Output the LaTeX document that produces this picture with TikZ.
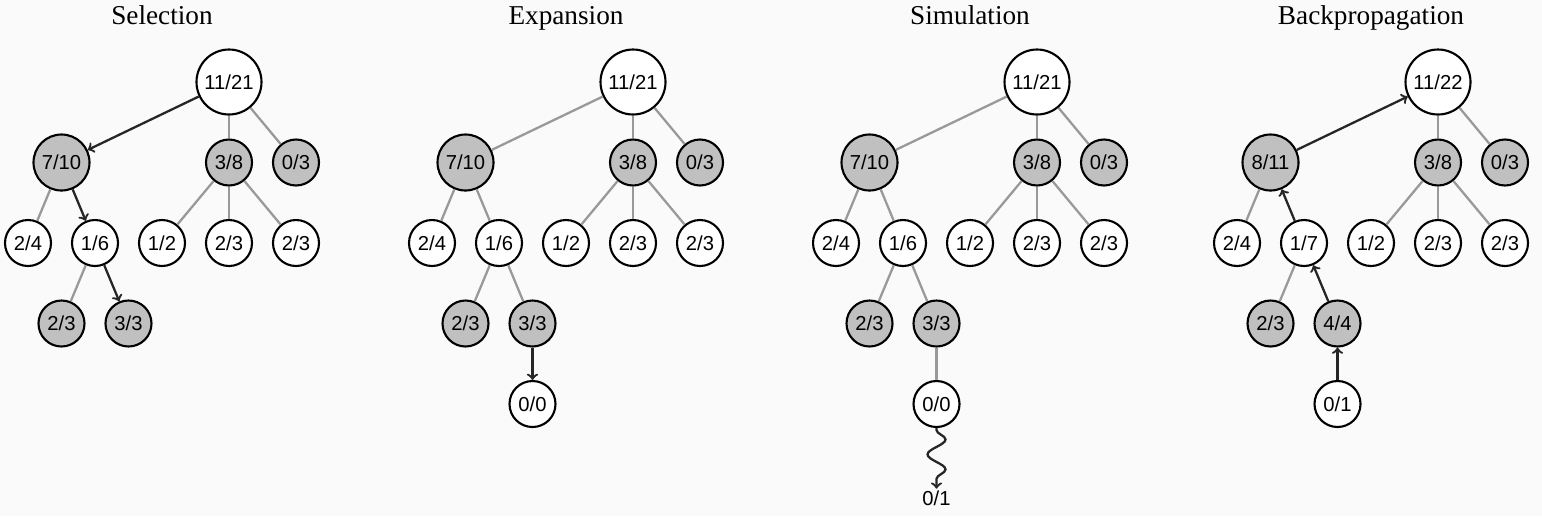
\documentclass[tikz,border=0pt]{standalone}
\usepackage{fontspec}
\setmainfont{Liberation Serif}
\setsansfont{Liberation Sans}
\usepackage{tikz}
\usetikzlibrary{shapes,arrows}
\usetikzlibrary{decorations.pathmorphing}

\definecolor{nodegray}{HTML}{C0C0C0}
\definecolor{edgegray}{HTML}{999999}
\definecolor{paper}{HTML}{FAFAFA}

\tikzset{
	whitenode/.style={circle, draw=black, line width=1.2pt, fill=white, minimum size=0.92cm, inner sep=0pt, font=\sffamily\fontsize{11.5}{13}\selectfont},
	graynode/.style={whitenode, fill=nodegray},
	bignode/.style={graynode, minimum size=1.12cm},
	rootnode/.style={whitenode, minimum size=1.3cm},
	treeedge/.style={draw=edgegray, line width=1.3pt},
	walk/.style={draw=black!85, line width=1.3pt, ->, >=to},
	titletext/.style={anchor=base, font=\fontsize{15.5}{18}\selectfont}
}

\begin{document}
\begin{tikzpicture}[x=1.34cm, y=1.61cm]
	\fill[paper] (0,0) rectangle (30.84cm,-10.32cm);
	\useasboundingbox (0,0) rectangle (30.84cm,-10.32cm);
	
	% Selection
	\begin{scope}[shift={(4.58cm,-1.64cm)}]
	\node[titletext] (stitle) at (-1,0.71) {Selection};
	\node[rootnode] (sroot) at (0,0) {11/21};
	\node[bignode] (sa) at (-2.5,-1) {7/10};
	\node[graynode] (sb) at (0,-1) {3/8};
	\node[graynode] (sc) at (1,-1) {0/3};
	\node[whitenode] (saa) at (-3,-2) {2/4};
	\node[whitenode] (sab) at (-2,-2) {1/6};
	\node[whitenode] (sba) at (-1,-2) {1/2};
	\node[whitenode] (sbb) at (0,-2) {2/3};
	\node[whitenode] (sbc) at (1,-2) {2/3};
	\node[graynode] (saba) at (-2.5,-3) {2/3};
	\node[graynode] (sabb) at (-1.5,-3) {3/3};
	
	\draw[walk] (sroot) -- (sa);
	\draw[treeedge] (sroot) -- (sb);
	\draw[treeedge] (sroot) -- (sc);
	\draw[treeedge] (sa) -- (saa);
	\draw[walk] (sa) -- (sab);
	\draw[treeedge] (sb) -- (sba);
	\draw[treeedge] (sb) -- (sbb);
	\draw[treeedge] (sb) -- (sbc);
	\draw[treeedge] (sab) -- (saba);
	\draw[walk] (sab) -- (sabb);
	\end{scope}
	
	% Expansion
	\begin{scope}[shift={(12.66cm,-1.64cm)}]
	\node[titletext] (etitle) at (-1,0.71) {Expansion};
	\node[rootnode] (eroot) at (0,0) {11/21};
	\node[bignode] (ea) at (-2.5,-1) {7/10};
	\node[graynode] (eb) at (0,-1) {3/8};
	\node[graynode] (ec) at (1,-1) {0/3};
	\node[whitenode] (eaa) at (-3,-2) {2/4};
	\node[whitenode] (eab) at (-2,-2) {1/6};
	\node[whitenode] (eba) at (-1,-2) {1/2};
	\node[whitenode] (ebb) at (0,-2) {2/3};
	\node[whitenode] (ebc) at (1,-2) {2/3};
	\node[graynode] (eaba) at (-2.5,-3) {2/3};
	\node[graynode] (eabb) at (-1.5,-3) {3/3};
	\node[whitenode] (enew) at (-1.5,-4) {0/0};
	
	\draw[treeedge] (eroot) -- (ea);
	\draw[treeedge] (eroot) -- (eb);
	\draw[treeedge] (eroot) -- (ec);
	\draw[treeedge] (ea) -- (eaa);
	\draw[treeedge] (ea) -- (eab);
	\draw[treeedge] (eb) -- (eba);
	\draw[treeedge] (eb) -- (ebb);
	\draw[treeedge] (eb) -- (ebc);
	\draw[treeedge] (eab) -- (eaba);
	\draw[treeedge] (eab) -- (eabb);
	\draw[walk] (eabb) -- (enew);
	\end{scope}
	
	% Simulation
	\begin{scope}[shift={(20.74cm,-1.64cm)}]
	\node[titletext] (mtitle) at (-1,0.71) {Simulation};
	\node[rootnode] (mroot) at (0,0) {11/21};
	\node[bignode] (ma) at (-2.5,-1) {7/10};
	\node[graynode] (mb) at (0,-1) {3/8};
	\node[graynode] (mc) at (1,-1) {0/3};
	\node[whitenode] (maa) at (-3,-2) {2/4};
	\node[whitenode] (mab) at (-2,-2) {1/6};
	\node[whitenode] (mba) at (-1,-2) {1/2};
	\node[whitenode] (mbb) at (0,-2) {2/3};
	\node[whitenode] (mbc) at (1,-2) {2/3};
	\node[graynode] (maba) at (-2.5,-3) {2/3};
	\node[graynode] (mabb) at (-1.5,-3) {3/3};
	\node[whitenode] (mnew) at (-1.5,-4) {0/0};
	\node[font=\sffamily\fontsize{11.5}{13}\selectfont, inner sep=1pt] (mout) at (-1.5,-5.17) {0/1};
	
	\draw[treeedge] (mroot) -- (ma);
	\draw[treeedge] (mroot) -- (mb);
	\draw[treeedge] (mroot) -- (mc);
	\draw[treeedge] (ma) -- (maa);
	\draw[treeedge] (ma) -- (mab);
	\draw[treeedge] (mb) -- (mba);
	\draw[treeedge] (mb) -- (mbb);
	\draw[treeedge] (mb) -- (mbc);
	\draw[treeedge] (mab) -- (maba);
	\draw[treeedge] (mab) -- (mabb);
	\draw[treeedge] (mabb) -- (mnew);
	\draw[walk, decorate, decoration={snake, amplitude=0.18cm, segment length=0.6cm, pre length=0.04cm, post length=0.14cm}] (mnew) -- (mout);
	\end{scope}
	
	% Backpropagation
	\begin{scope}[shift={(28.76cm,-1.64cm)}]
	\node[titletext] (btitle) at (-1,0.71) {Backpropagation};
	\node[rootnode] (broot) at (0,0) {11/22};
	\node[bignode] (ba) at (-2.5,-1) {8/11};
	\node[graynode] (bb) at (0,-1) {3/8};
	\node[graynode] (bc) at (1,-1) {0/3};
	\node[whitenode] (baa) at (-3,-2) {2/4};
	\node[whitenode] (bab) at (-2,-2) {1/7};
	\node[whitenode] (bba) at (-1,-2) {1/2};
	\node[whitenode] (bbb) at (0,-2) {2/3};
	\node[whitenode] (bbc) at (1,-2) {2/3};
	\node[graynode] (baba) at (-2.5,-3) {2/3};
	\node[graynode] (babb) at (-1.5,-3) {4/4};
	\node[whitenode] (bnew) at (-1.5,-4) {0/1};
	
	\draw[walk] (ba) -- (broot);
	\draw[treeedge] (broot) -- (bb);
	\draw[treeedge] (broot) -- (bc);
	\draw[treeedge] (ba) -- (baa);
	\draw[walk] (bab) -- (ba);
	\draw[treeedge] (bb) -- (bba);
	\draw[treeedge] (bb) -- (bbb);
	\draw[treeedge] (bb) -- (bbc);
	\draw[treeedge] (bab) -- (baba);
	\draw[walk] (babb) -- (bab);
	\draw[walk] (bnew) -- (babb);
	\end{scope}
\end{tikzpicture}
\end{document}
